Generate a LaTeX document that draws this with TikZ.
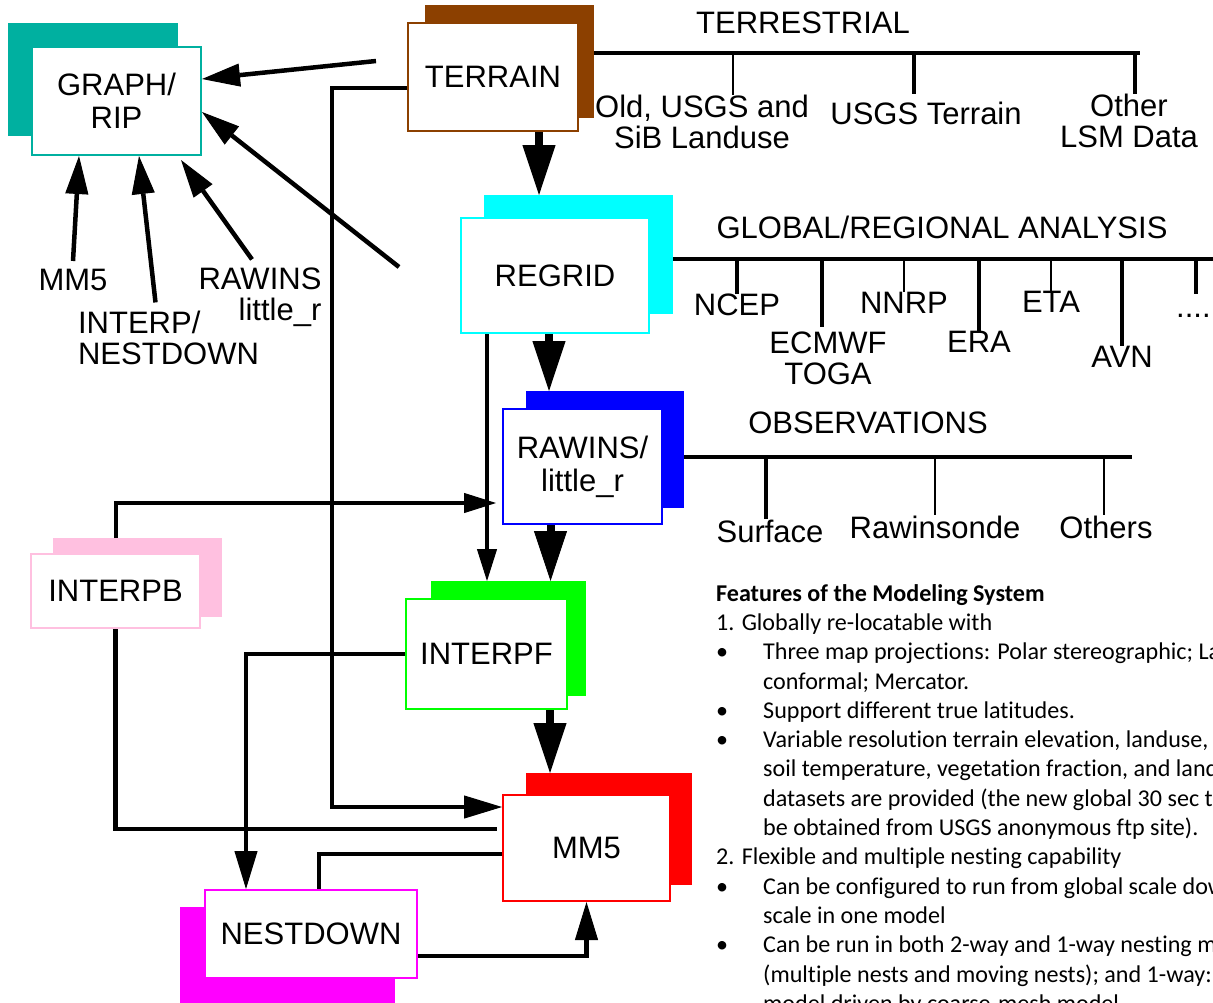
\documentclass[tikz,border=0pt]{standalone}
\usepackage{fontspec}
\setmainfont{Liberation Sans}
\newfontfamily\featfont[Ligatures=NoCommon]{Carlito}
\usepackage{tikz}
\usetikzlibrary{arrows.meta}
\usetikzlibrary{calc}
\definecolor{graphc}{RGB}{0,176,160}
\definecolor{terrainc}{RGB}{140,64,0}
\definecolor{regridc}{RGB}{0,255,255}
\definecolor{rawinsc}{RGB}{0,0,255}
\definecolor{interpbc}{RGB}{255,192,224}
\definecolor{interpfc}{RGB}{0,255,0}
\definecolor{mm5c}{RGB}{255,0,0}
\definecolor{nestc}{RGB}{255,0,255}
\newcommand{\featbul}{\makebox[47pt][l]{\textbullet}}
\newcommand{\featind}{\hspace*{47pt}}
\tikzstyle{box}=[rectangle,draw,fill=white,line width=2pt,inner sep=0pt,
        align=center,text=black,font=\fontsize{31}{33}\selectfont]
\tikzstyle{back}=[rectangle,inner sep=0pt,outer sep=0pt]
\tikzstyle{lbl}=[inner sep=0pt,align=center,font=\fontsize{31}{31}\selectfont]
\tikzstyle{glbl}=[inner sep=8pt,font=\fontsize{31}{31}\selectfont]
\tikzstyle{feat}=[inner sep=0pt,align=left,font=\featfont\fontsize{24.1}{29.3}\selectfont]
\tikzstyle{bar}=[line width=4pt]
\tikzstyle{tick}=[line width=3.5pt]
\tikzstyle{thintick}=[line width=2pt]
\tikzstyle{link}=[line width=4.5pt]
\tikzstyle{flow}=[line width=4.5pt,-{Triangle[length=38pt,width=23pt,line width=1pt]}]
\tikzstyle{thinflow}=[line width=4pt,-{Triangle[length=32pt,width=20pt,line width=1pt]}]
\tikzstyle{bigflow}=[line width=8pt,-{Triangle[length=50pt,width=33pt,line width=1pt]}]
\begin{document}
\begin{tikzpicture}[x=1pt,y=-1pt]
\useasboundingbox (0,0) rectangle (1213,1002);
% boxes and their shadows
\node[back,fill=graphc,minimum width=170,minimum height=113] (graphbg) at (93,79.5) {};
\node[box,draw=graphc,minimum width=169,minimum height=108] (graph) at (116.5,101) {GRAPH/\\RIP};
\node[back,fill=terrainc,minimum width=169,minimum height=113] (terrainbg) at (509.5,61.5) {};
\node[box,draw=terrainc,minimum width=170,minimum height=108] (terrain) at (493,77) {TERRAIN};
\node[back,fill=regridc,minimum width=189,minimum height=119] (regridbg) at (578.5,254.5) {};
\node[box,draw=regridc,minimum width=188,minimum height=115] (regrid) at (555,275.5) {REGRID};
\node[back,fill=rawinsc,minimum width=158,minimum height=117] (rawinsbg) at (605,449.5) {};
\node[box,draw=rawinsc,minimum width=159,minimum height=115] (rawins) at (582.5,466.5) {RAWINS/\\little\_r};
\node[back,fill=interpbc,minimum width=169,minimum height=79] (interpbbg) at (137.5,577.5) {};
\node[box,draw=interpbc,minimum width=169,minimum height=74] (interpb) at (115.5,591) {INTERPB};
\node[back,fill=interpfc,minimum width=155,minimum height=115] (interpfbg) at (508.5,638.5) {};
\node[box,draw=interpfc,minimum width=161,minimum height=110] (interpf) at (486.5,654) {INTERPF};
\node[back,fill=mm5c,minimum width=166,minimum height=112] (mm5bg) at (609,829) {};
\node[box,draw=mm5c,minimum width=167,minimum height=106] (mm5) at (586.5,848) {MM5};
\node[back,fill=nestc,minimum width=215,minimum height=110] (nestdownbg) at (287.5,962) {};
\node[box,draw=nestc,minimum width=212,minimum height=88] (nestdown) at (311,934) {NESTDOWN};
% data sources
\node[lbl] (terrlbl) at (803,22.5) {TERRESTRIAL};
\node[lbl] (oldusgs) at (702,122) {Old, USGS and\\SiB Landuse};
\node[lbl] (usgsterr) at (926,113) {USGS Terrain};
\node[lbl] (otherlsm) at (1129,121) {Other\\LSM Data};
\node[lbl] (globlbl) at (942,227) {GLOBAL/REGIONAL ANALYSIS};
\node[lbl] (ncep) at (737,305) {NCEP};
\node[lbl] (ecmwf) at (828,358.5) {ECMWF\\TOGA};
\node[lbl] (nnrp) at (904,303) {NNRP};
\node[lbl] (era) at (979,342) {ERA};
\node[lbl] (eta) at (1051,302) {ETA};
\node[lbl] (avn) at (1122,357) {AVN};
\node[lbl,anchor=west] (more) at (1176,316) {.....};
\node[lbl] (obslbl) at (868,423) {OBSERVATIONS};
\node[lbl] (surface) at (770,531) {Surface};
\node[lbl] (rawinsonde) at (935,527) {Rawinsonde};
\node[lbl] (others) at (1106,527) {Others};
% inputs of GRAPH/RIP
\node[glbl] (mm5lbl) at (73,280) {MM5};
\node[glbl,align=left] (interplbl) at (168.5,337.5) {INTERP/\\NESTDOWN};
\node[glbl,align=right] (rawlbl) at (260,297) {RAWINS\\little\_r};
\coordinate (tfree) at (376,61);
\coordinate (rfree) at (399,267);
% features
\node[feat,anchor=north west] (features) at (716,584) {\textbf{Features of the Modeling System}\\
1. Globally re-locatable with\\
\featbul Three map projections: Polar stereographic; La\\
\featind conformal; Mercator.\\
\featbul Support different true latitudes.\\
\featbul Variable resolution terrain elevation, landuse,\\
\featind soil temperature, vegetation fraction, and land\\
\featind datasets are provided (the new global 30 sec t\\
\featind be obtained from USGS anonymous ftp site).\\
2. Flexible and multiple nesting capability\\
\featbul Can be configured to run from global scale dow\\
\featind scale in one model\\
\featbul Can be run in both 2-way and 1-way nesting m\\
\featind (multiple nests and moving nests); and 1-way:\\
\featind model driven by coarse-mesh model};
% bars
\coordinate (tbar) at (1140,53);
\coordinate (gbar) at (1213,259);
\coordinate (obar) at (1132,457);
\draw[bar] (terrainbg.north east |- tbar) -- (tbar);
\draw[bar] (regridbg.north east |- gbar) -- (gbar);
\draw[bar] (rawinsbg.north east |- obar) -- (obar);
\draw[thintick] (tbar -| 733,0) -- (oldusgs.north -| 733,0);
\draw[tick,shorten >=7pt] (tbar -| 914,0) -- (usgsterr.north -| 914,0);
\draw[tick] (tbar -| 1135,0) -- (otherlsm.north -| 1135,0);
\draw[tick] (gbar -| ncep.north) -- (ncep.north);
\draw[tick,shorten >=5pt] (gbar -| 822,0) -- (ecmwf.north -| 822,0);
\draw[thintick] (gbar -| nnrp.north) -- (nnrp.north);
\draw[tick] (gbar -| era.north) -- (era.north);
\draw[thintick] (gbar -| eta.north) -- (eta.north);
\draw[tick] (gbar -| avn.north) -- (avn.north);
\draw[tick,shorten >=20pt] (gbar -| 1196,0) -- (more.north -| 1196,0);
\draw[tick] (obar -| 766,0) -- (surface.north -| 766,0);
\draw[thintick] (obar -| rawinsonde.north) -- (rawinsonde.north);
\draw[thintick] (obar -| 1104,0) -- (others.north -| 1104,0);
% main flow
\draw[bigflow] ($(terrain.south)+(46,0)$) coordinate (c1) -- (c1 |- regridbg.north);
\draw[bigflow] ($(regrid.south)+(-6,0)$) coordinate (c2) -- (c2 |- rawinsbg.north);
\draw[bigflow] ($(rawins.south)+(-32,0)$) coordinate (c3) -- (c3 |- interpfbg.north);
\draw[bigflow] ($(interpf.south)+(63.5,0)$) coordinate (c4) -- (c4 |- mm5bg.north);
\draw[thinflow] ($(regrid.south west)+(27,0)$) coordinate (c5) -- (c5 |- interpfbg.north);
\draw[thinflow,shorten >=6pt] (interpb.north |- interpbbg.north) |- ($(rawins.south west)+(0,-22)$);
\draw[link] (interpb.south) |- ($(mm5.north west)+(-5,35)$);
\draw[flow] ($(terrain.west)+(0,11)$) -- ++(-75,0) |- ($(mm5.north west)+(0,13)$);
\draw[flow] (interpf.west) -| ($(nestdown.north west)+(42,0)$);
\draw[link] ($(mm5.west)+(0,6)$) -| ($(nestdown.north west)+(115,0)$);
\draw[flow] ($(nestdown.east)+(0,22)$) -| (mm5.south);
% into GRAPH/RIP
\draw[flow] (tfree) -- ($(graph.north east)!0.3!(graph.south east)$);
\draw[flow] (rfree) -- ($(graph.north east)!0.6!(graph.south east)$);
\draw[flow] (mm5lbl.north) -- ($(graph.south west)+(48,0)$);
\draw[flow] ($(interplbl.north)+(-13,0)$) -- ($(graph.south west)+(108,0)$);
\draw[flow] ($(rawlbl.north)+(-8,0)$) -- ($(graph.south west)+(150,4)$);
\end{tikzpicture}
\end{document}
